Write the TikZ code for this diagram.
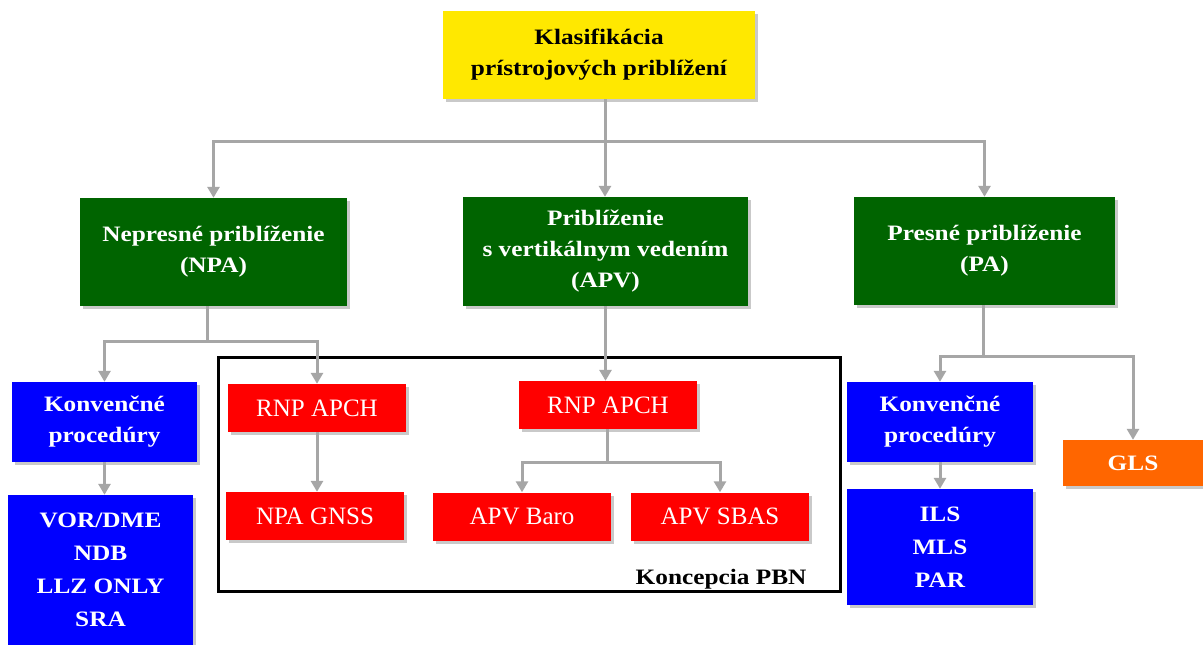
\documentclass[tikz,border=0pt]{standalone}
\usepackage{fontspec}
\setmainfont{Liberation Serif}
\newfontfamily\widefont{Liberation Serif}[FakeStretch=1.15]
\usetikzlibrary{arrows.meta, shadows}

\definecolor{klasyellow}{RGB}{255,232,0}
\definecolor{skupgreen}{RGB}{0,100,0}
\definecolor{konvblue}{RGB}{0,0,255}
\definecolor{pbnred}{RGB}{255,0,0}
\definecolor{glsorange}{RGB}{255,102,0}
\definecolor{spojgray}{RGB}{166,166,166}

\begin{document}
\begin{tikzpicture}[
    x=1pt, y=-1pt,
    box/.style={inner sep=2pt, align=center,
                drop shadow={shadow xshift=3pt, shadow yshift=-3pt, opacity=0.35, fill=black!60}},
    bold/.style={font=\widefont\bfseries\fontsize{22}{31}\selectfont, text=white},
    root/.style={box, bold, text=black, fill=klasyellow},
    cat/.style={box, bold, fill=skupgreen},
    conv/.style={box, bold, fill=konvblue},
    list/.style={conv, font=\widefont\bfseries\fontsize{22}{33}\selectfont},
    pbn/.style={box, fill=pbnred, text=white, font=\fontsize{25}{30}\selectfont,
                minimum width=178pt, minimum height=48pt},
    gls/.style={box, bold, fill=glsorange},
    ln/.style={draw=spojgray, line width=3pt},
    ar/.style={ln, -{Triangle[length=11pt, width=12pt]}},
  ]
  \path[use as bounding box, fill=white] (0,0) rectangle (1203,645);

  % ---- PBN frame
  \node[draw, line width=3pt, inner sep=0pt, minimum width=622pt, minimum height=234pt]
    (pbnframe) at (529.5,474.5) {};
  \node[anchor=base east, font=\widefont\bfseries\fontsize{22}{26}\selectfont]
    (pbnlabel) at (810,584) {Koncepcia PBN};

  % ---- top levels
  \node[root, minimum width=312pt, minimum height=88pt] (klas) at (599,55)
    {Klasifikácia\\prístrojových priblížení};
  \node[cat, minimum width=267pt, minimum height=108pt] (npa) at (213.5,252)
    {Nepresné priblíženie\\(NPA)};
  \node[cat, minimum width=285pt, minimum height=109pt] (apv) at (605.5,251.5)
    {Priblíženie\\s vertikálnym vedením\\(APV)};
  \node[cat, minimum width=261pt, minimum height=108pt] (pa) at (984.5,251)
    {Presné priblíženie\\(PA)};

  \coordinate (busA) at (605,141);
  \draw[ln] (klas.south -| busA) -- (busA);
  \draw[ar] (busA) -| (npa);
  \draw[ar] (busA) -- (busA |- apv.north);
  \draw[ar] (busA) -| (pa);

  % ---- NPA branch
  \node[conv, minimum width=185pt, minimum height=80pt] (konvL) at (104.5,422)
    {Konvenčné\\procedúry};
  \node[list, minimum width=185pt, minimum height=150pt] (vor) at (100.5,570)
    {VOR/DME\\NDB\\LLZ ONLY\\SRA};
  \node[pbn] (rnpL) at (317,408) {RNP APCH};
  \node[pbn] (gnss) at (315,516) {NPA GNSS};

  \coordinate (busB) at (207,341);
  \draw[ln] (npa.south -| busB) -- (busB);
  \draw[ar] (busB) -| (konvL);
  \draw[ar] (busB) -| (rnpL);
  \draw[ar] (konvL) -- (konvL |- vor.north);
  \draw[ar] (rnpL) -- (rnpL |- gnss.north);

  % ---- APV branch
  \node[pbn] (rnpM) at (608,405) {RNP APCH};
  \node[pbn] (baro) at (522,516.5) {APV Baro};
  \node[pbn] (sbas) at (720,516.5) {APV SBAS};

  \draw[ar] (apv) -- (apv |- rnpM.north);
  \coordinate (busC) at (607,462);
  \draw[ln] (rnpM.south -| busC) -- (busC);
  \draw[ar] (busC) -| (baro);
  \draw[ar] (busC) -| (sbas);

  % ---- PA branch
  \node[conv, minimum width=186pt, minimum height=80pt] (konvR) at (940,422)
    {Konvenčné\\procedúry};
  \node[list, minimum width=186pt, minimum height=116pt] (ils) at (940,547)
    {ILS\\MLS\\PAR};
  \node[gls, minimum width=140pt, minimum height=46pt] (gls) at (1133,463) {GLS};

  \coordinate (busD) at (983,356);
  \draw[ln] (pa.south -| busD) -- (busD);
  \draw[ar] (busD) -| (konvR);
  \draw[ar] (busD) -| (gls);
  \draw[ar] (konvR) -- (konvR |- ils.north);
\end{tikzpicture}
\end{document}
